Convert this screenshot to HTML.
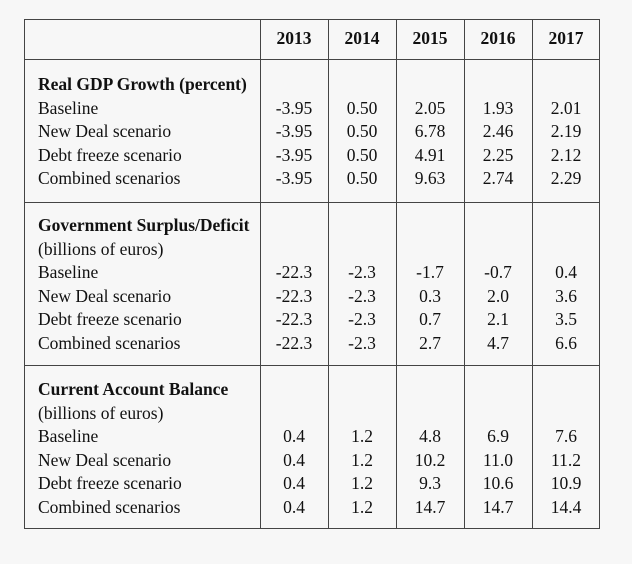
<!DOCTYPE html>
<html><head><meta charset="utf-8"><style>
body{margin:0;background:#f7f7f7;width:632px;height:564px;overflow:hidden;font-family:"Liberation Serif",serif;color:#111}
#t{position:absolute;left:24px;top:19px;width:576px;height:510px;border:1.5px solid #444;box-sizing:border-box}
.v{position:absolute;top:19px;height:510px;width:0;border-left:1.3px solid #444}
.h{position:absolute;left:24px;width:576px;height:0;border-top:1.3px solid #444}
.tx{position:absolute;font-size:17.5px;line-height:20px;white-space:nowrap}
.l{left:38px}
.b{font-weight:bold}
.c{width:68px;text-align:center}
</style></head><body>
<div id="t"></div>
<div id="root"></div>
<script>
const years=['2013','2014','2015','2016','2017'];
const sections=[
 {title:'Real GDP Growth (percent)',sub:null,rows:[
  ['Baseline',['-3.95','0.50','2.05','1.93','2.01']],
  ['New Deal scenario',['-3.95','0.50','6.78','2.46','2.19']],
  ['Debt freeze scenario',['-3.95','0.50','4.91','2.25','2.12']],
  ['Combined scenarios',['-3.95','0.50','9.63','2.74','2.29']]]},
 {title:'Government Surplus/Deficit',sub:'(billions of euros)',rows:[
  ['Baseline',['-22.3','-2.3','-1.7','-0.7','0.4']],
  ['New Deal scenario',['-22.3','-2.3','0.3','2.0','3.6']],
  ['Debt freeze scenario',['-22.3','-2.3','0.7','2.1','3.5']],
  ['Combined scenarios',['-22.3','-2.3','2.7','4.7','6.6']]]},
 {title:'Current Account Balance',sub:'(billions of euros)',rows:[
  ['Baseline',['0.4','1.2','4.8','6.9','7.6']],
  ['New Deal scenario',['0.4','1.2','10.2','11.0','11.2']],
  ['Debt freeze scenario',['0.4','1.2','9.3','10.6','10.9']],
  ['Combined scenarios',['0.4','1.2','14.7','14.7','14.4']]]}
];
const root=document.getElementById('root');
const colX=[260,328,396,464,532];
function add(cls,txt,x,y,name){const d=document.createElement('div');d.className='tx '+cls;d.textContent=txt;if(x!=null)d.style.left=x+'px';d.style.top=(y-10)+'px';


root.appendChild(d);}
colX.forEach(x=>{const d=document.createElement('div');d.className='v';d.style.left=x+'px';


root.appendChild(d);});
[59,202,365].forEach(y=>{const d=document.createElement('div');d.className='h';d.style.top=y+'px';


root.appendChild(d);});
years.forEach((y,i)=>add('c b',y,colX[i],38,'year-header'));
const starts=[84,225,389];
const step=23.5;
sections.forEach((s,si)=>{let y=starts[si];
 add('l b',s.title,null,y,'section-title');y+=step;
 if(s.sub){add('l',s.sub,null,y,'section-unit');y+=step;}
 s.rows.forEach(r=>{add('l',r[0],null,y,'row-label');
  r[1].forEach((v,i)=>add('c',v,colX[i],y,'cell-value'));y+=step;});
});
</script>
</body></html>
